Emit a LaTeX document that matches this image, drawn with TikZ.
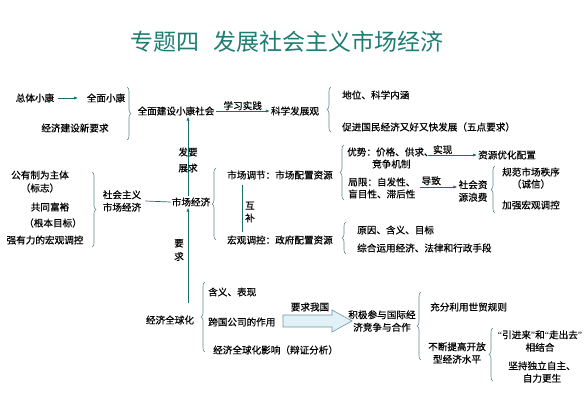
\documentclass[tikz,border=0pt]{standalone}
\usepackage{fontspec}
\newfontfamily\cjk[FakeBold=0.5]{Noto Sans CJK SC}
\newfontfamily\cjktitle{Noto Sans CJK SC}
\newfontfamily\qf{Liberation Serif}
\usetikzlibrary{arrows.meta,decorations.pathreplacing,calc}
\definecolor{teal1}{RGB}{30,125,115}
\definecolor{tealarr}{RGB}{25,110,110}
\definecolor{bracec}{RGB}{95,135,140}
\definecolor{arrfill}{RGB}{226,240,248}
\definecolor{arredge}{RGB}{110,150,160}
\newcommand{\myLq}{{\qf “}}
\newcommand{\myRq}{{\qf ”}}
\begin{document}
\begin{tikzpicture}[x=1pt,y=-1pt,
  every node/.style={font=\cjk\fontsize{9.6}{12.5}\selectfont,inner sep=1pt,align=center},
  lbl/.style={anchor=west,align=left},
  arr/.style={draw=tealarr,line width=0.7pt,-{Latex[length=4pt,width=3.2pt]}},
  ln/.style={draw=tealarr,line width=0.7pt},
  brc/.style={draw=bracec,line width=0.6pt,decorate,decoration={brace,amplitude=4pt}},
  titlestyle/.style={font=\cjktitle\fontsize{23}{26}\selectfont,text=teal1}]
\useasboundingbox (0,0) rectangle (588,401);
% title
\node[titlestyle] (t) at (287,42) {专题四\hspace{0.6em}发展社会主义市场经济};
% top row
\node (n1) at (35,98) {总体小康};
\node (n2) at (106,98) {全面小康};
\node (n3) at (75,128) {经济建设新要求};
\node (n4) at (176,111) {全面建设小康社会};
\node (n5) at (295,111) {科学发展观};
\node[lbl] (n6) at (341,95) {地位、科学内涵};
\node[lbl] (n7) at (341,127) {促进国民经济又好又快发展（五点要求）};
\draw[arr] ($(n1.east)+(3,0)$) -- (n2.west -| 78,0);
\draw[brc] (127,87) -- (127,140);
\draw[arr] (n4.east) -- node[above,inner sep=0.5pt] (lx) {学习实践} (n5.west);
\draw[brc] (331,132) -- (331,87);
% middle
\node (n8) at (40,175) {公有制为主体};
\node (n9) at (40,188) {（标志）};
\node (n10) at (50,207) {共同富裕};
\node (n11) at (53,223) {（根本目标）};
\node (n12) at (45,240) {强有力的宏观调控};
\draw[brc] (92,172) -- (92,247);
\node (n13) at (122,201) {社会主义\\市场经济};
\node (n14) at (191,202) {市场经济};
\draw[ln] ($(n13.east)+(3,0)$) -- (n14.west);
\draw[brc] (216,240) -- (216,168);
\node[lbl] (n15) at (226,175) {市场调节：市场配置资源};
\node[lbl] (n16) at (226,240) {宏观调控：政府配置资源};
\coordinate (hb) at (242,0);
\draw[ln] ($(n15.south -| hb)+(0,4)$) -- ($(n16.north -| hb)+(0,-2)$);
\node (n17) at (250,212) {互\\补};
% vertical connectors
\coordinate (vx) at (188,0);
\draw[arr] (n14.north -| vx) -- (n4.south -| vx);
\node (n18l) at (188,152) {发要};
\node (n19l) at (188,168) {展求};
\node (n26) at (170,320) {经济全球化};
\draw[arr] ($(n26.north -| vx)+(0,-11)$) -- (n14.south -| vx);
\node (rqn) at (179,250) {要\\[1pt]求};
% market adjustment details
\draw[brc] (344,200) -- (344,145);
\node[lbl] (m1) at (346,152) {优势：价格、供求、};
\node[lbl] (m1b) at (371,164) {竞争机制};
\node (m2) at (507,155) {资源优化配置};
\draw[arr] (428,155) -- node[above,pos=0.3,inner sep=0.5pt] (sx) {实现} (m2.west);
\node[lbl] (m3) at (347,182) {局限：自发性、};
\node[lbl] (m3b) at (347,194) {盲目性、滞后性};
\node (m4) at (473,191) {社会资\\源浪费};
\draw[arr] (420,187) -- node[above,pos=0.3,inner sep=1.5pt] (dz) {导致} (m4.west |- 0,187);
\draw[brc] (495,213) -- (495,166);
\node (m5) at (531,172) {规范市场秩序};
\node (m5b) at (531,184) {（诚信）};
\node (m6) at (531,205) {加强宏观调控};
\draw[brc] (346,254) -- (346,222);
\node[lbl] (g1) at (356,230) {原因、含义、目标};
\node[lbl] (g2) at (356,248) {综合运用经济、法律和行政手段};
% globalization
\draw[brc] (205,352) -- (205,282);
\node[lbl] (w1) at (207,292) {含义、表现};
\node[lbl] (w2) at (207,322) {跨国公司的作用};
\node[lbl] (w3) at (212,350) {经济全球化影响（辩证分析）};
\node (w4) at (382,321) {积极参与国际经\\济竞争与合作};
\draw[fill=arrfill,draw=arredge,line width=0.6pt]
  (283,315) -- (332,315) -- (332,310) -- (352,321) -- (332,332) -- (332,327) -- (283,327) -- cycle;
\node (yq) at (310,307) {要求我国};
\draw[brc] (421,360) -- (421,292);
\node[lbl] (w5) at (429,307) {充分利用世贸规则};
\node (w6) at (457,353) {不断提高开放\\型经济水平};
\draw[brc] (493,381) -- (493,328);
\node (w7) at (540,341) {\myLq 引进来\myRq 和\myLq 走出去\myRq\\相结合};
\node (w8) at (542,372) {坚持独立自主、\\自力更生};
\end{tikzpicture}
\end{document}
